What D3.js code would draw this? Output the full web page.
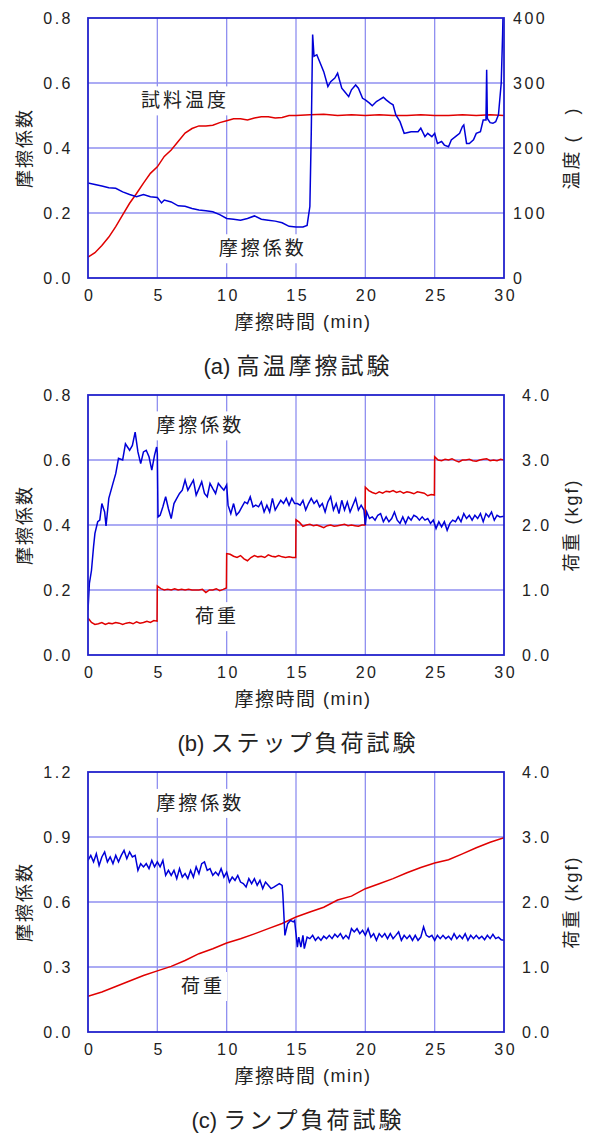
<!DOCTYPE html>
<html><head><meta charset="utf-8">
<script src="https://cdn.jsdelivr.net/npm/d3@7"></script>
<style>
body{margin:0;background:#fff;}
svg{display:block;}
text{font-family:"Liberation Sans","Noto Sans CJK JP",sans-serif;fill:#222;}
</style></head>
<body>
<script>
// ---------- DATA ----------
const timeTicks = [0,5,10,15,20,25,30];
const fricTicksAB = [0,0.2,0.4,0.6,0.8];
const fricTicksC = [0,0.3,0.6,0.9,1.2];
const tempTicks = [0,100,200,300,400];
const loadTicks = [0,1,2,3,4];

// (a) high-temperature test: friction coefficient [min, mu]
const fricA = [[0,0.292],[0.5,0.288],[1,0.283],[1.5,0.278],[2,0.276],[2.5,0.265],[3,0.257],[3.5,0.25],[4,0.257],[4.5,0.25],[5,0.248],[5.3,0.231],[5.5,0.24],[6,0.234],[6.5,0.222],[7,0.221],[7.5,0.214],[8,0.209],[8.5,0.207],[9,0.204],[9.5,0.195],[10,0.183],[10.5,0.181],[11,0.178],[11.5,0.183],[12,0.191],[12.5,0.181],[13,0.178],[13.5,0.175],[14,0.17],[14.5,0.159],[15,0.157],[15.5,0.157],[15.8,0.162],[16,0.22],[16.1,0.445],[16.2,0.749],[16.3,0.682],[16.5,0.687],[16.7,0.666],[17,0.635],[17.3,0.589],[17.5,0.604],[17.8,0.615],[18,0.63],[18.3,0.584],[18.5,0.574],[18.8,0.558],[19,0.579],[19.3,0.594],[19.5,0.584],[19.8,0.553],[20,0.548],[20.3,0.538],[20.5,0.53],[20.8,0.543],[21,0.548],[21.3,0.556],[21.5,0.548],[21.8,0.538],[22,0.533],[22.2,0.502],[22.5,0.481],[22.8,0.445],[23,0.447],[23.3,0.45],[23.5,0.45],[23.8,0.45],[24,0.461],[24.3,0.435],[24.5,0.445],[24.8,0.435],[25,0.445],[25.2,0.414],[25.5,0.42],[25.7,0.409],[26,0.404],[26.2,0.425],[26.5,0.435],[26.8,0.445],[27,0.466],[27.1,0.471],[27.3,0.414],[27.5,0.414],[27.8,0.425],[28,0.445],[28.3,0.45],[28.5,0.486],[28.7,0.486],[28.75,0.641],[28.8,0.491],[29,0.478],[29.2,0.476],[29.4,0.481],[29.6,0.502],[29.8,0.6],[29.9,0.75],[29.95,0.85]];
// (a) specimen temperature [min, degC]
const tempA = [[0,32],[0.5,39],[1,50],[1.5,63],[2,79],[2.5,97],[3,115],[3.5,130],[4,146],[4.5,161],[5,171],[5.5,187],[6,197],[6.5,210],[7,223],[7.5,230],[8,234],[8.5,234],[9,235],[9.5,239],[10,242],[10.5,245],[11,245],[11.5,243],[12,246],[12.5,248],[13,248],[13.5,246],[14,247],[14.5,250],[15,250],[16,251],[17,252],[18,250],[19,251],[20,250],[21,251],[22,250],[23,250],[24,251],[25,250],[26,250],[27,251],[28,250],[29,251],[30,250]];

// (b) step-load test: friction coefficient [min, mu]
const fricB = [[0,0.138],[0.1,0.22],[0.25,0.26],[0.4,0.333],[0.5,0.374],[0.7,0.41],[0.85,0.415],[1,0.466],[1.2,0.44],[1.3,0.397],[1.5,0.482],[1.8,0.528],[2,0.558],[2.2,0.605],[2.5,0.6],[2.7,0.65],[3,0.63],[3.2,0.645],[3.4,0.686],[3.6,0.625],[3.8,0.589],[4,0.625],[4.2,0.63],[4.4,0.61],[4.6,0.569],[4.8,0.615],[4.95,0.64],[5,0.62],[5.05,0.425],[5.2,0.43],[5.4,0.456],[5.6,0.487],[5.8,0.45],[6,0.42],[6.2,0.466],[6.4,0.482],[6.6,0.497],[6.8,0.507],[7,0.538],[7.2,0.507],[7.4,0.523],[7.6,0.538],[7.8,0.492],[8,0.512],[8.2,0.533],[8.4,0.497],[8.6,0.487],[8.8,0.528],[9,0.512],[9.2,0.497],[9.4,0.528],[9.6,0.517],[9.8,0.507],[10,0.523],[10.1,0.461],[10.3,0.435],[10.5,0.466],[10.7,0.43],[10.9,0.44],[11.1,0.456],[11.3,0.471],[11.5,0.466],[11.7,0.487],[11.9,0.456],[12.1,0.461],[12.3,0.456],[12.5,0.471],[12.7,0.44],[12.9,0.461],[13.1,0.44],[13.3,0.482],[13.5,0.446],[13.7,0.461],[13.9,0.476],[14.1,0.466],[14.3,0.482],[14.5,0.461],[14.7,0.482],[14.9,0.466],[15.1,0.466],[15.3,0.461],[15.5,0.476],[15.7,0.446],[15.9,0.466],[16.1,0.482],[16.3,0.466],[16.5,0.476],[16.7,0.456],[16.9,0.466],[17.1,0.44],[17.3,0.471],[17.5,0.487],[17.7,0.446],[17.9,0.466],[18.1,0.435],[18.3,0.476],[18.5,0.446],[18.7,0.471],[18.9,0.44],[19.1,0.461],[19.3,0.482],[19.5,0.446],[19.7,0.461],[19.9,0.446],[20,0.4],[20.1,0.44],[20.3,0.42],[20.5,0.425],[20.7,0.415],[20.9,0.43],[21.1,0.435],[21.3,0.41],[21.5,0.425],[21.7,0.41],[21.9,0.42],[22.1,0.44],[22.3,0.415],[22.5,0.405],[22.7,0.425],[22.9,0.405],[23.1,0.425],[23.3,0.415],[23.5,0.43],[23.7,0.425],[23.9,0.415],[24.1,0.425],[24.3,0.415],[24.5,0.42],[24.7,0.405],[24.9,0.415],[25.1,0.389],[25.3,0.41],[25.5,0.394],[25.7,0.41],[25.9,0.384],[26.1,0.405],[26.3,0.415],[26.5,0.41],[26.7,0.425],[26.9,0.41],[27.1,0.435],[27.3,0.42],[27.5,0.43],[27.7,0.415],[27.9,0.43],[28.1,0.42],[28.3,0.435],[28.5,0.41],[28.7,0.435],[28.9,0.425],[29.1,0.44],[29.3,0.415],[29.5,0.43],[29.7,0.425],[30,0.427]];
// (b) load [min, kgf]
const loadB = [[0,0.57],[0.25,0.5],[0.5,0.47],[0.75,0.48],[1,0.5],[1.25,0.47],[1.5,0.49],[1.75,0.48],[2,0.5],[2.25,0.49],[2.5,0.47],[2.75,0.49],[3,0.5],[3.25,0.48],[3.5,0.51],[3.75,0.49],[4,0.5],[4.25,0.52],[4.5,0.5],[4.75,0.53],[4.98,0.52],
[5,1.06],[5.25,1.02],[5.5,1],[5.75,1.01],[6,1],[6.25,1.02],[6.5,1],[6.75,1.01],[7,1],[7.25,1.01],[7.5,1],[7.75,1],[8,1],[8.25,1.01],[8.5,0.96],[8.75,1],[9,1],[9.25,1.02],[9.5,0.99],[9.75,1.01],[9.98,1.03],
[10,1.56],[10.25,1.55],[10.5,1.52],[10.75,1.5],[11,1.53],[11.25,1.48],[11.5,1.45],[11.75,1.5],[12,1.53],[12.25,1.51],[12.5,1.52],[12.75,1.5],[13,1.54],[13.25,1.52],[13.5,1.51],[13.75,1.53],[14,1.51],[14.25,1.5],[14.5,1.51],[14.75,1.5],[14.98,1.5],
[15,2.08],[15.25,2.04],[15.5,1.98],[15.75,2],[16,2.01],[16.25,1.99],[16.5,2],[16.75,1.98],[17,1.96],[17.25,1.99],[17.5,2],[17.75,1.98],[18,1.99],[18.25,2],[18.5,2.01],[18.75,1.99],[19,2],[19.25,1.99],[19.5,1.98],[19.75,2],[19.98,2],
[20,2.58],[20.25,2.53],[20.5,2.5],[20.75,2.48],[21,2.51],[21.25,2.49],[21.5,2.52],[21.75,2.51],[22,2.53],[22.25,2.5],[22.5,2.52],[22.75,2.49],[23,2.51],[23.25,2.5],[23.5,2.48],[23.75,2.51],[24,2.5],[24.25,2.49],[24.5,2.45],[24.75,2.47],[24.98,2.46],
[25,3.05],[25.25,3],[25.5,2.99],[25.75,3.01],[26,3],[26.25,3.02],[26.5,2.99],[26.75,2.97],[27,3],[27.25,3],[27.5,3.01],[27.75,2.99],[28,2.98],[28.25,3],[28.5,3.01],[28.75,3.02],[29,2.99],[29.25,3],[29.5,2.99],[29.75,3.01],[30,3]];

// (c) ramp-load test: friction coefficient [min, mu]
const fricC = [[0,0.792],[0.2,0.815],[0.4,0.785],[0.6,0.823],[0.8,0.769],[1,0.808],[1.2,0.831],[1.4,0.785],[1.6,0.808],[1.8,0.777],[2,0.815],[2.2,0.785],[2.4,0.815],[2.6,0.838],[2.8,0.8],[3,0.831],[3.2,0.808],[3.4,0.815],[3.6,0.746],[3.8,0.777],[4,0.762],[4.2,0.777],[4.4,0.754],[4.6,0.792],[4.8,0.762],[5,0.785],[5.2,0.762],[5.4,0.792],[5.6,0.723],[5.8,0.746],[6,0.723],[6.2,0.746],[6.4,0.708],[6.6,0.754],[6.8,0.715],[7,0.731],[7.2,0.708],[7.4,0.746],[7.6,0.715],[7.8,0.762],[8,0.731],[8.2,0.777],[8.4,0.785],[8.6,0.746],[8.8,0.754],[9,0.723],[9.2,0.738],[9.4,0.723],[9.6,0.754],[9.8,0.715],[10,0.738],[10.2,0.692],[10.4,0.715],[10.6,0.7],[10.8,0.723],[11,0.692],[11.2,0.685],[11.4,0.669],[11.6,0.708],[11.8,0.685],[12,0.708],[12.2,0.677],[12.4,0.7],[12.6,0.662],[12.8,0.692],[13,0.677],[13.2,0.662],[13.4,0.669],[13.6,0.677],[13.8,0.685],[14,0.677],[14.05,0.638],[14.2,0.446],[14.4,0.5],[14.6,0.515],[14.8,0.508],[14.9,0.515],[15,0.454],[15.1,0.392],[15.2,0.438],[15.35,0.392],[15.5,0.446],[15.6,0.385],[15.8,0.438],[16,0.431],[16.2,0.446],[16.4,0.423],[16.6,0.438],[16.8,0.423],[17,0.442],[17.2,0.431],[17.4,0.446],[17.6,0.431],[17.8,0.451],[18,0.438],[18.2,0.454],[18.4,0.431],[18.6,0.446],[18.8,0.431],[19,0.477],[19.2,0.462],[19.4,0.477],[19.6,0.454],[19.8,0.469],[20,0.446],[20.2,0.477],[20.4,0.438],[20.6,0.454],[20.8,0.423],[21,0.454],[21.2,0.438],[21.4,0.454],[21.6,0.431],[21.8,0.454],[22,0.431],[22.2,0.446],[22.4,0.462],[22.6,0.423],[22.8,0.446],[23,0.431],[23.2,0.446],[23.4,0.423],[23.6,0.446],[23.8,0.423],[24,0.438],[24.2,0.485],[24.4,0.446],[24.6,0.438],[24.8,0.446],[25,0.423],[25.2,0.446],[25.4,0.431],[25.6,0.446],[25.8,0.431],[26,0.442],[26.2,0.426],[26.4,0.454],[26.6,0.431],[26.8,0.446],[27,0.431],[27.2,0.454],[27.4,0.423],[27.6,0.446],[27.8,0.431],[28,0.446],[28.2,0.431],[28.4,0.442],[28.6,0.426],[28.8,0.446],[29,0.431],[29.2,0.451],[29.4,0.431],[29.6,0.438],[29.8,0.426],[30,0.423]];
// (c) load [min, kgf]
const loadC = [[0,0.55],[1,0.615],[2,0.7],[3,0.785],[4,0.87],[5,0.94],[6,1.01],[7,1.1],[8,1.205],[9,1.28],[10,1.37],[11,1.435],[12,1.51],[13,1.59],[14,1.67],[15,1.77],[16,1.846],[17,1.92],[18,2.03],[19,2.09],[20,2.205],[21,2.28],[22,2.36],[23,2.45],[24,2.53],[25,2.6],[26,2.65],[27,2.74],[28,2.835],[29,2.92],[30,2.99]];

// inline series labels [text, min, left-axis value]
const labelsA = [["試料温度",7.0,0.545],["摩擦係数",12.6,0.09]];
const labelsB = [["摩擦係数",8.1,0.705],["荷重",9.3,0.118]];
const labelsC = [["摩擦係数",8.1,1.055],["荷重",8.3,0.21]];

// titles split into [Latin part, CJK part]
const xTitle = ["摩擦時間", " (min)"];
const leftTitle = "摩擦係数";
const captions = [["(a) ","高温摩擦試験"],["(b) ","ステップ負荷試験"],["(c) ","ランプ負荷試験"]];
const rightTitles = ["温度 (\u3000)","荷重 (kgf)","荷重 (kgf)"];

// ---------- DRAW ----------
const W = 591, H = 1135;
const svg = d3.select("body").append("svg").attr("width",W).attr("height",H);
const FRAME = "#2222cc", GRID = "#8f8ff0", BLUE = "#0000d8", RED = "#e00000";

function panel(o){
  const g = svg.append("g");
  const x = d3.scaleLinear().domain([0,30]).range([88,504]);
  const yL = d3.scaleLinear().domain([0,o.lmax]).range([o.bottom,o.top]);
  const yR = d3.scaleLinear().domain([0,o.rmax]).range([o.bottom,o.top]);
  const cid = "clip"+o.id;
  g.append("clipPath").attr("id",cid).append("rect")
    .attr("x",x(0)).attr("y",o.top).attr("width",x(30)-x(0)).attr("height",o.bottom-o.top);
  // grid
  g.selectAll(".vg").data(timeTicks.slice(1,-1)).join("line")
    .attr("x1",d=>x(d)).attr("x2",d=>x(d)).attr("y1",o.top).attr("y2",o.bottom)
    .attr("stroke",GRID).attr("stroke-width",1.3);
  g.selectAll(".hg").data(o.lticks.slice(1,-1)).join("line")
    .attr("x1",x(0)).attr("x2",x(30)).attr("y1",d=>yL(d)).attr("y2",d=>yL(d))
    .attr("stroke",GRID).attr("stroke-width",1.3);
  // label boxes
  const lg = g.append("g");
  o.labels.forEach(l=>{
    const t = lg.append("text").attr("x",x(l[1])).attr("y",yL(l[2]))
      .attr("text-anchor","middle").attr("dominant-baseline","central")
      .style("font-size","19px").style("letter-spacing","3px").text(l[0]);
    const b = t.node().getBBox();
    lg.insert("rect","text").attr("x",b.x-2).attr("y",b.y-4).attr("width",b.width+4).attr("height",b.height+8).attr("fill","#fff");
  });
  // lines
  const lineL = d3.line().x(d=>x(d[0])).y(d=>yL(d[1]));
  const lineR = d3.line().x(d=>x(d[0])).y(d=>yR(d[1]));
  const cg = g.append("g").attr("clip-path",`url(#${cid})`);
  cg.append("path").datum(o.red).attr("d",lineR).attr("fill","none").attr("stroke",RED).attr("stroke-width",1.5);
  cg.append("path").datum(o.blue).attr("d",lineL).attr("fill","none").attr("stroke",BLUE).attr("stroke-width",1.5);
  // frame
  g.append("rect").attr("x",x(0)).attr("y",o.top).attr("width",x(30)-x(0)).attr("height",o.bottom-o.top)
    .attr("fill","none").attr("stroke",FRAME).attr("stroke-width",1.8);
  // axes
  const ax = g.append("g").attr("transform",`translate(0,${o.bottom})`)
    .call(d3.axisBottom(x).tickValues(timeTicks).tickSize(0).tickPadding(12));
  const ay = g.append("g").attr("transform",`translate(${x(0)},0)`)
    .call(d3.axisLeft(yL).tickValues(o.lticks).tickSize(0).tickPadding(15).tickFormat(d3.format(".1f")));
  const ar = g.append("g").attr("transform",`translate(${x(30)},0)`)
    .call(d3.axisRight(yR).tickValues(o.rticks).tickSize(0).tickPadding(o.rpad).tickFormat(o.rfmt));
  [ax,ay,ar].forEach(a=>{
    a.select(".domain").remove();
    a.selectAll("text").attr("font-family",null).attr("fill",null).attr("font-size",null)
      .style("font-size","16px").style("letter-spacing","2.5px");
  });
  ax.selectAll("text").attr("dx","1.25px");
  // x title
  const xt = g.append("text").attr("x",303).attr("y",o.bottom+44).attr("text-anchor","middle")
    .attr("dominant-baseline","central");
  xt.append("tspan").style("font-size","19px").style("letter-spacing","1.5px").text(xTitle[0]);
  xt.append("tspan").style("font-size","18px").style("letter-spacing","1.5px").text(xTitle[1]);
  // caption
  const ct = g.append("text").attr("x",298).attr("y",o.bottom+88).attr("text-anchor","middle")
    .attr("dominant-baseline","central");
  ct.append("tspan").style("font-size","22px").text(o.caption[0]);
  ct.append("tspan").style("font-size","23px").style("letter-spacing","3px").text(o.caption[1]);
  const mid = (o.top+o.bottom)/2;
  g.append("text").attr("transform",`translate(25,${mid}) rotate(-90)`)
    .attr("text-anchor","middle").attr("dominant-baseline","central").style("font-size","18px").style("letter-spacing","2px").text(leftTitle);
  g.append("text").attr("transform",`translate(572,${mid}) rotate(-90)`)
    .attr("text-anchor","middle").attr("dominant-baseline","central").style("font-size","18px").style("letter-spacing","2px").text(o.rtitle);
}

panel({id:"a",top:18,bottom:278,lmax:0.8,rmax:400,lticks:fricTicksAB,rticks:tempTicks,rpad:9,rfmt:d3.format("d"),
  blue:fricA,red:tempA,labels:labelsA,caption:captions[0],rtitle:rightTitles[0]});
panel({id:"b",top:395,bottom:655,lmax:0.8,rmax:4,lticks:fricTicksAB,rticks:loadTicks,rpad:18,rfmt:d3.format(".1f"),
  blue:fricB,red:loadB,labels:labelsB,caption:captions[1],rtitle:rightTitles[1]});
panel({id:"c",top:772,bottom:1032,lmax:1.2,rmax:4,lticks:fricTicksC,rticks:loadTicks,rpad:18,rfmt:d3.format(".1f"),
  blue:fricC,red:loadC,labels:labelsC,caption:captions[2],rtitle:rightTitles[2]});
</script>
</body></html>
